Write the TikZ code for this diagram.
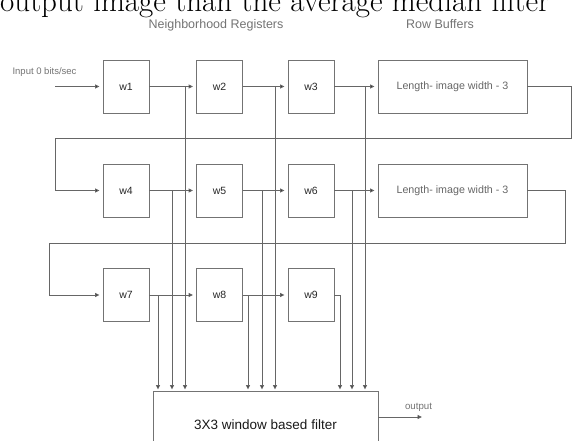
\documentclass[tikz,border=0pt]{standalone}
\usepackage{fontspec}
\setsansfont{Liberation Sans}
\usetikzlibrary{arrows.meta,calc}
\begin{document}
\begin{tikzpicture}[x=1pt,y=-1pt,
  ln/.style={draw=black!60, line width=0.9pt},
  arr/.style={ln, -{Triangle[length=4.5pt,width=4pt,fill=black!85]}},
  harr/.style={arr, shorten >=3pt},
  varr/.style={arr, shorten >=1pt},
  reg/.style={draw=black!55, line width=0.9pt, minimum width=46pt, minimum height=53pt,
    inner sep=0pt, font=\sffamily\fontsize{10.5}{12}\selectfont, text=black!85},
  buf/.style={draw=black!55, line width=0.9pt, minimum width=149pt, minimum height=53pt,
    inner sep=0pt, font=\sffamily\fontsize{10.7}{12}\selectfont, text=black!60},
  filt/.style={draw=black!55, line width=0.9pt, minimum width=225pt, minimum height=68pt,
    inner sep=0pt, font=\sffamily\fontsize{13.5}{15}\selectfont, text=black!90},
  head/.style={font=\sffamily\fontsize{12.5}{14}\selectfont, text=black!55, inner sep=0pt},
  small/.style={font=\sffamily\fontsize{9.5}{11}\selectfont, text=black!55, inner sep=0pt}
]
\useasboundingbox (0,0) rectangle (576,441);
\clip (0,0) rectangle (576,441);

% cropped line of text at the top
\node[anchor=base west, inner sep=0pt, font=\fontsize{31}{32}\selectfont] (top) at (0,11.5)
  {output image than the average median filter};

% headers
\node[head] (hnr) at (216,25) {Neighborhood Registers};
\node[head] (hrb) at (440,24) {Row Buffers};

% row 1
\node[reg] (w1) at (126,86.5) {w1};
\node[reg] (w2) at (219.5,86.5) {w2};
\node[reg] (w3) at (311,86.5) {w3};
\node[buf] (rb1) at (452.5,86.5) {Length- image width - 3};
% row 2
\node[reg] (w4) at (126,190.5) {w4};
\node[reg] (w5) at (219.5,190.5) {w5};
\node[reg] (w6) at (311,190.5) {w6};
\node[buf] (rb2) at (452.5,190.5) {Length- image width - 3};
% row 3
\node[reg] (w7) at (126,295) {w7};
\node[reg] (w8) at (219.5,295) {w8};
\node[reg] (w9) at (311,295) {w9};

% filter
\node[filt] (f) at (265.5,425) {3X3 window based filter};

% input
\node[small] (intext) at (44.5,72) {Input 0 bits/sec};
\coordinate (inp) at (55,86.5);
\draw[harr] (inp) -- (w1.west);

% horizontal chains
\draw[harr] (w1.east) -- (w2.west);
\draw[harr] (w2.east) -- (w3.west);
\draw[harr] (w3.east) -- (rb1.west);
\draw[harr] (w4.east) -- (w5.west);
\draw[harr] (w5.east) -- (w6.west);
\draw[harr] (w6.east) -- (rb2.west);
\draw[harr] (w7.east) -- (w8.west);
\draw[harr] (w8.east) -- (w9.west);

% feedback from row buffers
\coordinate (c1) at (571,138);
\coordinate (c2) at (55,138);
\draw[harr] (rb1.east) -| (c1) -- (c2) |- (w4.west);
\coordinate (c3) at (565,243);
\coordinate (c4) at (49,243);
\draw[harr] (rb2.east) -| (c3) -- (c4) |- (w7.west);

% taps into the filter
\coordinate (j1) at (185,86.5);
\coordinate (j2) at (275,86.5);
\coordinate (j3) at (365,86.5);
\coordinate (j4) at (172,190.5);
\coordinate (j5) at (262,190.5);
\coordinate (j6) at (352,190.5);
\coordinate (j7) at (158,295);
\coordinate (j8) at (248,295);
\coordinate (j9) at (340,295);
\foreach \j in {j1,j2,j3,j4,j5,j6,j7,j8}
  \draw[varr] (\j) -- (\j |- f.north);
\draw[varr] (w9.east) -- (j9) -- (j9 |- f.north);

% output
\coordinate (oend) at (422,417);
\draw[arr] (oend -| f.east) -- (oend);
\node[small, font=\sffamily\fontsize{9.7}{11}\selectfont] (otext) at (418.5,407) {output};
\end{tikzpicture}
\end{document}
